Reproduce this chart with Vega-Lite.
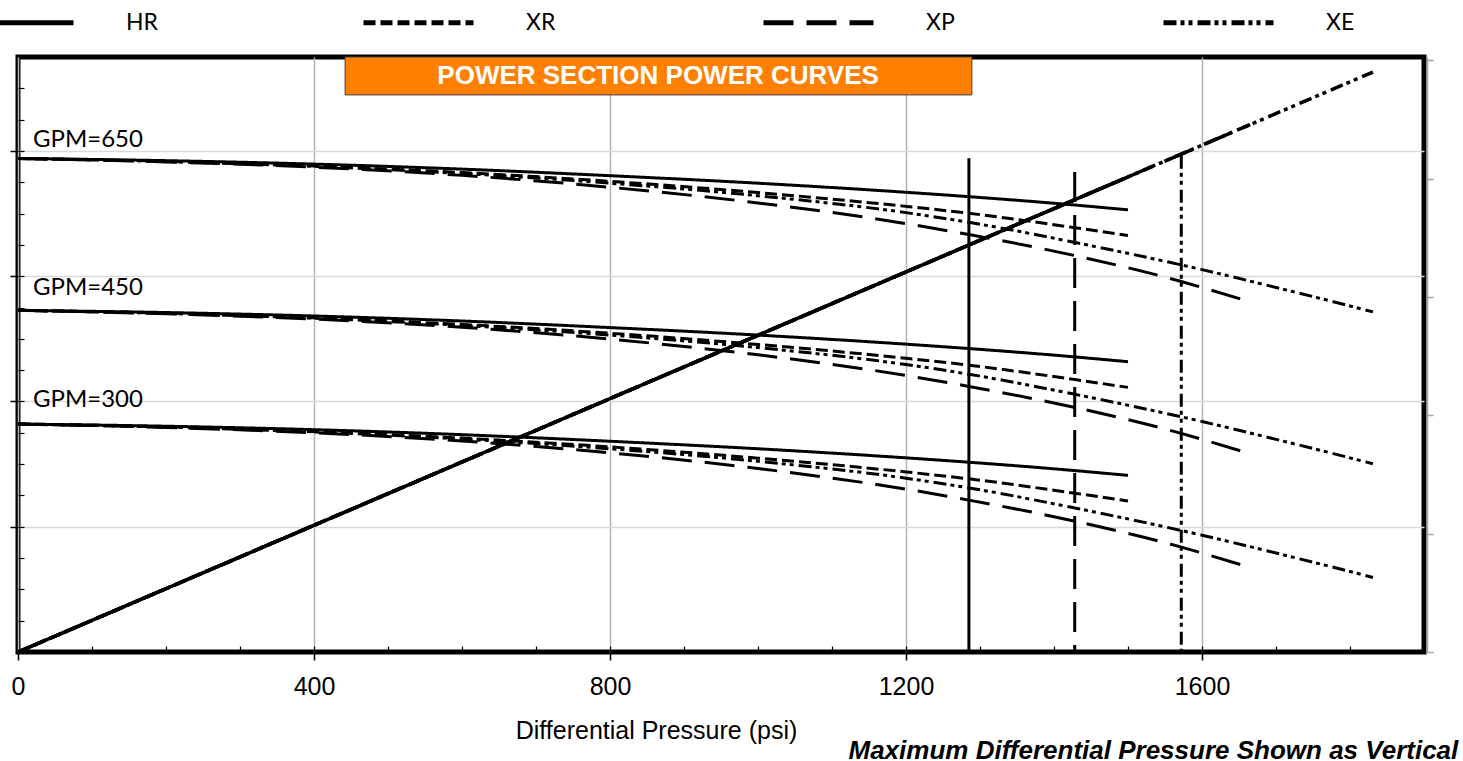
{
  "$schema": "https://vega.github.io/schema/vega-lite/v6.json",
  "width": 1406,
  "height": 595,
  "autosize": {"type": "none"},
  "padding": {"left": 18, "top": 57, "right": 39, "bottom": 109},
  "background": "white",
  "config": {
    "view": {"stroke": "black", "strokeWidth": 5},
    "font": "Liberation Sans",
    "axis": {"labelFont": "Liberation Sans", "titleFont": "Liberation Sans"},
    "legend": {"orient": "none", "legendX": -57, "legendY": -92, "direction": "horizontal", "columns": 4, "gridAlign": "all", "columnPadding": 195, "symbolType": "stroke", "symbolSize": 12100, "symbolStrokeWidth": 5, "symbolStrokeColor": "black", "labelFont": "Lato", "labelFontSize": 23, "labelColor": "black", "labelOffset": 50, "padding": 0}
  },
  "datasets": {
    "curves": [
      {"motor": "HR", "gpm": 650, "psi": 0, "y": 1576}, {"motor": "HR", "gpm": 650, "psi": 200, "y": 1569}, {"motor": "HR", "gpm": 650, "psi": 400, "y": 1558}, {"motor": "HR", "gpm": 650, "psi": 600, "y": 1542}, {"motor": "HR", "gpm": 650, "psi": 800, "y": 1521}, {"motor": "HR", "gpm": 650, "psi": 1000, "y": 1497}, {"motor": "HR", "gpm": 650, "psi": 1200, "y": 1468}, {"motor": "HR", "gpm": 650, "psi": 1285, "y": 1454}, {"motor": "HR", "gpm": 650, "psi": 1400, "y": 1433}, {"motor": "HR", "gpm": 650, "psi": 1500, "y": 1412},
      {"motor": "HR", "gpm": 450, "psi": 0, "y": 1091}, {"motor": "HR", "gpm": 450, "psi": 200, "y": 1084}, {"motor": "HR", "gpm": 450, "psi": 400, "y": 1073}, {"motor": "HR", "gpm": 450, "psi": 600, "y": 1057}, {"motor": "HR", "gpm": 450, "psi": 800, "y": 1036}, {"motor": "HR", "gpm": 450, "psi": 1000, "y": 1012}, {"motor": "HR", "gpm": 450, "psi": 1200, "y": 983}, {"motor": "HR", "gpm": 450, "psi": 1285, "y": 969}, {"motor": "HR", "gpm": 450, "psi": 1400, "y": 948}, {"motor": "HR", "gpm": 450, "psi": 1500, "y": 927},
      {"motor": "HR", "gpm": 300, "psi": 0, "y": 728}, {"motor": "HR", "gpm": 300, "psi": 200, "y": 721}, {"motor": "HR", "gpm": 300, "psi": 400, "y": 710}, {"motor": "HR", "gpm": 300, "psi": 600, "y": 694}, {"motor": "HR", "gpm": 300, "psi": 800, "y": 673}, {"motor": "HR", "gpm": 300, "psi": 1000, "y": 649}, {"motor": "HR", "gpm": 300, "psi": 1200, "y": 620}, {"motor": "HR", "gpm": 300, "psi": 1285, "y": 606}, {"motor": "HR", "gpm": 300, "psi": 1400, "y": 585}, {"motor": "HR", "gpm": 300, "psi": 1500, "y": 564},
      {"motor": "XR", "gpm": 650, "psi": 0, "y": 1576}, {"motor": "XR", "gpm": 650, "psi": 200, "y": 1567}, {"motor": "XR", "gpm": 650, "psi": 400, "y": 1552}, {"motor": "XR", "gpm": 650, "psi": 600, "y": 1531}, {"motor": "XR", "gpm": 650, "psi": 800, "y": 1503}, {"motor": "XR", "gpm": 650, "psi": 1000, "y": 1467}, {"motor": "XR", "gpm": 650, "psi": 1200, "y": 1423}, {"motor": "XR", "gpm": 650, "psi": 1285, "y": 1401}, {"motor": "XR", "gpm": 650, "psi": 1428, "y": 1355}, {"motor": "XR", "gpm": 650, "psi": 1500, "y": 1330},
      {"motor": "XR", "gpm": 450, "psi": 0, "y": 1091}, {"motor": "XR", "gpm": 450, "psi": 200, "y": 1082}, {"motor": "XR", "gpm": 450, "psi": 400, "y": 1067}, {"motor": "XR", "gpm": 450, "psi": 600, "y": 1046}, {"motor": "XR", "gpm": 450, "psi": 800, "y": 1018}, {"motor": "XR", "gpm": 450, "psi": 1000, "y": 982}, {"motor": "XR", "gpm": 450, "psi": 1200, "y": 938}, {"motor": "XR", "gpm": 450, "psi": 1285, "y": 916}, {"motor": "XR", "gpm": 450, "psi": 1428, "y": 870}, {"motor": "XR", "gpm": 450, "psi": 1500, "y": 845},
      {"motor": "XR", "gpm": 300, "psi": 0, "y": 728}, {"motor": "XR", "gpm": 300, "psi": 200, "y": 719}, {"motor": "XR", "gpm": 300, "psi": 400, "y": 704}, {"motor": "XR", "gpm": 300, "psi": 600, "y": 683}, {"motor": "XR", "gpm": 300, "psi": 800, "y": 655}, {"motor": "XR", "gpm": 300, "psi": 1000, "y": 619}, {"motor": "XR", "gpm": 300, "psi": 1200, "y": 575}, {"motor": "XR", "gpm": 300, "psi": 1285, "y": 553}, {"motor": "XR", "gpm": 300, "psi": 1428, "y": 507}, {"motor": "XR", "gpm": 300, "psi": 1500, "y": 482},
      {"motor": "XE", "gpm": 650, "psi": 0, "y": 1576}, {"motor": "XE", "gpm": 650, "psi": 200, "y": 1566}, {"motor": "XE", "gpm": 650, "psi": 400, "y": 1551}, {"motor": "XE", "gpm": 650, "psi": 600, "y": 1528}, {"motor": "XE", "gpm": 650, "psi": 800, "y": 1497}, {"motor": "XE", "gpm": 650, "psi": 1000, "y": 1457}, {"motor": "XE", "gpm": 650, "psi": 1200, "y": 1403}, {"motor": "XE", "gpm": 650, "psi": 1285, "y": 1372}, {"motor": "XE", "gpm": 650, "psi": 1428, "y": 1308}, {"motor": "XE", "gpm": 650, "psi": 1572, "y": 1236}, {"motor": "XE", "gpm": 650, "psi": 1600, "y": 1221}, {"motor": "XE", "gpm": 650, "psi": 1700, "y": 1164}, {"motor": "XE", "gpm": 650, "psi": 1800, "y": 1105}, {"motor": "XE", "gpm": 650, "psi": 1831, "y": 1086},
      {"motor": "XE", "gpm": 450, "psi": 0, "y": 1091}, {"motor": "XE", "gpm": 450, "psi": 200, "y": 1081}, {"motor": "XE", "gpm": 450, "psi": 400, "y": 1066}, {"motor": "XE", "gpm": 450, "psi": 600, "y": 1043}, {"motor": "XE", "gpm": 450, "psi": 800, "y": 1012}, {"motor": "XE", "gpm": 450, "psi": 1000, "y": 972}, {"motor": "XE", "gpm": 450, "psi": 1200, "y": 918}, {"motor": "XE", "gpm": 450, "psi": 1285, "y": 887}, {"motor": "XE", "gpm": 450, "psi": 1428, "y": 823}, {"motor": "XE", "gpm": 450, "psi": 1572, "y": 751}, {"motor": "XE", "gpm": 450, "psi": 1600, "y": 736}, {"motor": "XE", "gpm": 450, "psi": 1700, "y": 679}, {"motor": "XE", "gpm": 450, "psi": 1800, "y": 620}, {"motor": "XE", "gpm": 450, "psi": 1831, "y": 601},
      {"motor": "XE", "gpm": 300, "psi": 0, "y": 728}, {"motor": "XE", "gpm": 300, "psi": 200, "y": 718}, {"motor": "XE", "gpm": 300, "psi": 400, "y": 703}, {"motor": "XE", "gpm": 300, "psi": 600, "y": 680}, {"motor": "XE", "gpm": 300, "psi": 800, "y": 649}, {"motor": "XE", "gpm": 300, "psi": 1000, "y": 609}, {"motor": "XE", "gpm": 300, "psi": 1200, "y": 555}, {"motor": "XE", "gpm": 300, "psi": 1285, "y": 524}, {"motor": "XE", "gpm": 300, "psi": 1428, "y": 460}, {"motor": "XE", "gpm": 300, "psi": 1572, "y": 388}, {"motor": "XE", "gpm": 300, "psi": 1600, "y": 373}, {"motor": "XE", "gpm": 300, "psi": 1700, "y": 316}, {"motor": "XE", "gpm": 300, "psi": 1800, "y": 257}, {"motor": "XE", "gpm": 300, "psi": 1831, "y": 238},
      {"motor": "XP", "gpm": 650, "psi": 0, "y": 1576}, {"motor": "XP", "gpm": 650, "psi": 200, "y": 1565}, {"motor": "XP", "gpm": 650, "psi": 400, "y": 1548}, {"motor": "XP", "gpm": 650, "psi": 600, "y": 1522}, {"motor": "XP", "gpm": 650, "psi": 800, "y": 1484}, {"motor": "XP", "gpm": 650, "psi": 1000, "y": 1434}, {"motor": "XP", "gpm": 650, "psi": 1200, "y": 1368}, {"motor": "XP", "gpm": 650, "psi": 1285, "y": 1333}, {"motor": "XP", "gpm": 650, "psi": 1428, "y": 1266}, {"motor": "XP", "gpm": 650, "psi": 1572, "y": 1183}, {"motor": "XP", "gpm": 650, "psi": 1600, "y": 1164}, {"motor": "XP", "gpm": 650, "psi": 1665, "y": 1118},
      {"motor": "XP", "gpm": 450, "psi": 0, "y": 1091}, {"motor": "XP", "gpm": 450, "psi": 200, "y": 1080}, {"motor": "XP", "gpm": 450, "psi": 400, "y": 1063}, {"motor": "XP", "gpm": 450, "psi": 600, "y": 1037}, {"motor": "XP", "gpm": 450, "psi": 800, "y": 999}, {"motor": "XP", "gpm": 450, "psi": 1000, "y": 949}, {"motor": "XP", "gpm": 450, "psi": 1200, "y": 883}, {"motor": "XP", "gpm": 450, "psi": 1285, "y": 848}, {"motor": "XP", "gpm": 450, "psi": 1428, "y": 781}, {"motor": "XP", "gpm": 450, "psi": 1572, "y": 698}, {"motor": "XP", "gpm": 450, "psi": 1600, "y": 679}, {"motor": "XP", "gpm": 450, "psi": 1665, "y": 633},
      {"motor": "XP", "gpm": 300, "psi": 0, "y": 728}, {"motor": "XP", "gpm": 300, "psi": 200, "y": 717}, {"motor": "XP", "gpm": 300, "psi": 400, "y": 700}, {"motor": "XP", "gpm": 300, "psi": 600, "y": 674}, {"motor": "XP", "gpm": 300, "psi": 800, "y": 636}, {"motor": "XP", "gpm": 300, "psi": 1000, "y": 586}, {"motor": "XP", "gpm": 300, "psi": 1200, "y": 520}, {"motor": "XP", "gpm": 300, "psi": 1285, "y": 485}, {"motor": "XP", "gpm": 300, "psi": 1428, "y": 418}, {"motor": "XP", "gpm": 300, "psi": 1572, "y": 335}, {"motor": "XP", "gpm": 300, "psi": 1600, "y": 316}, {"motor": "XP", "gpm": 300, "psi": 1665, "y": 270}
    ],
    "diag": [
      {"motor": "XE", "psi": 0, "y": 0}, {"motor": "XE", "psi": 1831, "y": 1852},
      {"motor": "XP", "psi": 0, "y": 0}, {"motor": "XP", "psi": 1665, "y": 1684},
      {"motor": "XR", "psi": 0, "y": 0}, {"motor": "XR", "psi": 1500, "y": 1517},
      {"motor": "HR", "psi": 0, "y": 0}, {"motor": "HR", "psi": 1500, "y": 1517}
    ],
    "vmax": [
      {"motor": "HR", "psi": 1285, "top": 1577},
      {"motor": "XP", "psi": 1428, "top": 1533},
      {"motor": "XE", "psi": 1572, "top": 1585}
    ],
    "labels": [
      {"label": "GPM=650", "y": 1635},
      {"label": "GPM=450", "y": 1162},
      {"label": "GPM=300", "y": 805}
    ]
  },
  "layer": [
    {
      "data": {"name": "curves"},
      "mark": {"type": "line", "color": "black", "strokeWidth": 3, "interpolate": "monotone"},
      "encoding": {
        "x": {"field": "psi", "type": "quantitative", "scale": {"domain": [0, 1900], "nice": false, "zero": false},
          "axis": {"orient": "bottom", "values": [0, 400, 800, 1200, 1600], "format": "d", "grid": true, "gridColor": "#b4b4b4", "gridWidth": 1.5, "domain": false, "ticks": true, "tickSize": 8, "tickColor": "black", "tickWidth": 1.5, "labels": true, "labelFontSize": 25, "labelColor": "black", "labelPadding": 14, "labelFlush": false, "labelOverlap": false, "title": "Differential Pressure (psi)", "titleFontSize": 25, "titleFontWeight": "normal", "titleColor": "black", "titleX": 638, "titleY": 78, "titleAlign": "center", "titleBaseline": "middle"}},
        "y": {"field": "y", "type": "quantitative", "scale": {"domain": [0, 1900], "nice": false, "zero": false},
          "axis": {"orient": "left", "values": [400, 800, 1200, 1600], "grid": true, "gridColor": "#d9d9d9", "gridWidth": 1.5, "domain": false, "ticks": true, "tickSize": 8, "tickColor": "black", "tickWidth": 1.5, "labels": false, "title": null}},
        "strokeDash": {"field": "motor", "type": "nominal",
          "scale": {"domain": ["HR", "XR", "XP", "XE"], "range": [[1, 0], [12, 5], [30, 13], [13, 4, 4, 4, 4, 5]]},
          "legend": {"title": null, "orient": "none", "legendX": -57, "legendY": -92}},
        "detail": {"field": "gpm", "type": "nominal"}
      }
    },
    {
      "data": {"name": "diag"},
      "mark": {"type": "line", "color": "black", "strokeWidth": 3.5},
      "encoding": {
        "x": {"field": "psi", "type": "quantitative", "scale": {"domain": [0, 1900], "nice": false, "zero": false},
          "axis": {"orient": "bottom", "values": [100, 200, 300, 400, 500, 600, 700, 800, 900, 1000, 1100, 1200, 1300, 1400, 1500, 1600, 1700, 1800], "grid": false, "domain": false, "ticks": true, "tickSize": -6, "tickColor": "black", "tickWidth": 1.2, "labels": false, "title": "Maximum Differential Pressure Shown as Vertical Lines", "titleFontSize": 26, "titleFontWeight": "bold", "titleFontStyle": "italic", "titleColor": "black", "titleX": 830, "titleY": 98, "titleAlign": "left", "titleBaseline": "middle"}},
        "y": {"field": "y", "type": "quantitative", "scale": {"domain": [0, 1900], "nice": false, "zero": false},
          "axis": {"orient": "left", "values": [100, 200, 300, 400, 500, 600, 700, 800, 900, 1000, 1100, 1200, 1300, 1400, 1500, 1600, 1700, 1800], "grid": false, "domain": false, "ticks": true, "tickSize": -6, "tickColor": "black", "tickWidth": 1.2, "labels": false, "title": null}},
        "strokeDash": {"field": "motor", "type": "nominal", "legend": {"title": null, "orient": "none", "legendX": -57, "legendY": -92}},
        "order": {"field": "psi"}
      }
    },
    {
      "data": {"name": "vmax"},
      "mark": {"type": "rule", "color": "black", "strokeWidth": 3},
      "encoding": {
        "x": {"field": "psi", "type": "quantitative", "scale": {"domain": [0, 1900], "nice": false, "zero": false}, "axis": null},
        "y": {"field": "top", "type": "quantitative", "scale": {"domain": [0, 1900], "nice": false, "zero": false},
          "axis": {"orient": "right", "values": [0, 378, 756, 1134, 1512, 1890], "grid": false, "domain": true, "domainColor": "#a6a6a6", "domainWidth": 1.5, "offset": 3, "ticks": true, "tickSize": 6, "tickColor": "#a6a6a6", "tickWidth": 1.5, "labels": false, "title": null}},
        "y2": {"datum": 0},
        "strokeDash": {"field": "motor", "type": "nominal", "legend": {"title": null, "orient": "none", "legendX": -57, "legendY": -92}}
      }
    },
    {
      "data": {"values": [{}]},
      "mark": {"type": "rect", "fill": "#FF8000", "stroke": "#404040", "strokeWidth": 1},
      "encoding": {
        "x": {"datum": 442, "type": "quantitative", "axis": null},
        "x2": {"datum": 1289},
        "y": {"datum": 1900, "type": "quantitative", "axis": null},
        "y2": {"datum": 1779}
      }
    },
    {
      "data": {"values": [{}]},
      "mark": {"type": "text", "text": "POWER SECTION POWER CURVES", "font": "Liberation Sans", "fontSize": 26, "fontWeight": "bold", "color": "white", "align": "center", "baseline": "middle"},
      "encoding": {
        "x": {"datum": 865, "type": "quantitative", "axis": null},
        "y": {"datum": 1839, "type": "quantitative", "axis": null}
      }
    },
    {
      "data": {"name": "labels"},
      "mark": {"type": "text", "font": "Lato", "fontSize": 24, "color": "black", "align": "left", "baseline": "middle", "dx": 15},
      "encoding": {
        "x": {"datum": 0, "type": "quantitative", "axis": null},
        "y": {"field": "y", "type": "quantitative", "axis": null},
        "text": {"field": "label"}
      }
    }
  ],
  "resolve": {"axis": {"x": "independent", "y": "independent"}}
}
